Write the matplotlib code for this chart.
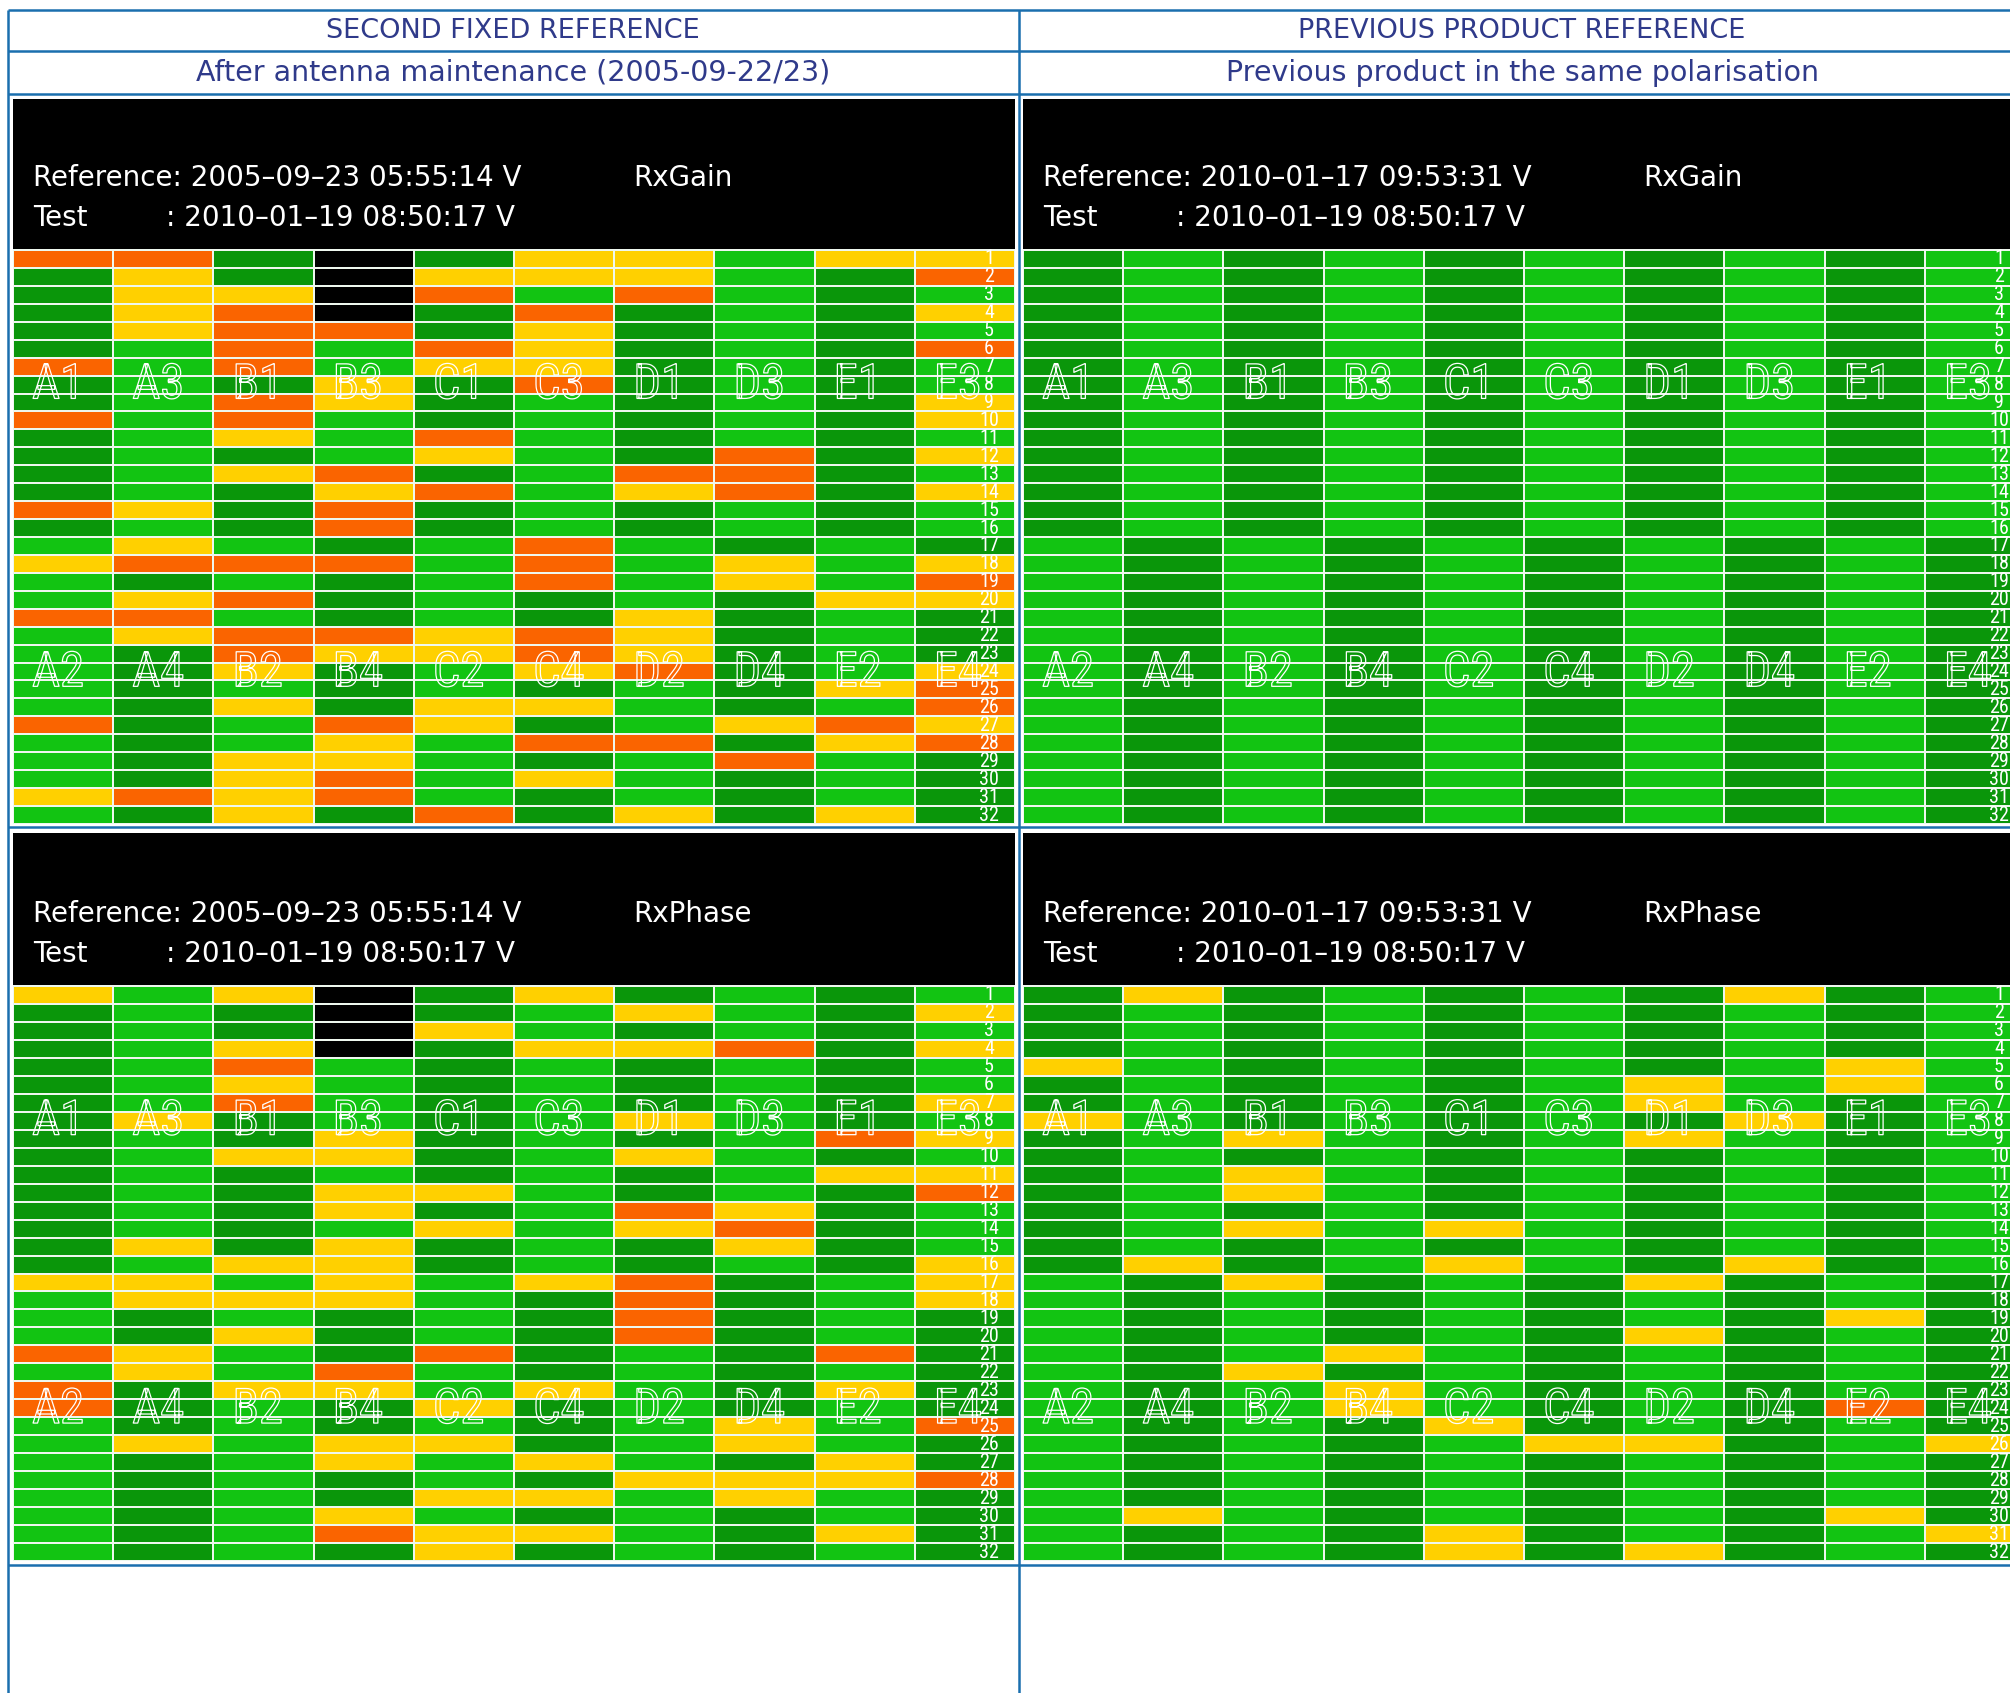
import numpy as np
import matplotlib
matplotlib.use("Agg")
import matplotlib.pyplot as plt
from matplotlib.colors import ListedColormap
from matplotlib import patheffects, font_manager

W, H = 2010, 1693

# tile names, upper and lower half of each panel
top_labels = ["A1", "A3", "B1", "B3", "C1", "C3", "D1", "D3", "E1", "E3"]
bot_labels = ["A2", "A4", "B2", "B4", "C2", "C4", "D2", "D4", "E2", "E4"]

# one string per row (1..32), one char per tile column
# '.' = ok (green), 'y' = warning, 'o' = alarm, 'k' = no data
gain_fixed = [
    "oo.k.yy.yy", ".y.kyyy..o", ".yyko.o...", ".yok.o...y",
    ".yoo.y....", "..o.oy...o", "o.o.yy....", "...y.o....",
    "..oy.....y", "o.o......y", "..y.o.....", "....y..o.y",
    "..yo..oo..", "...yo.yo.y", "oy.o......", "...o......",
    ".y...o....", "yooo.o.y.y", ".....o.y.o", ".yo.....yy",
    "oo....y...", ".yooyoy...", "..oyyoy...", "..y..yo..y",
    "........yo", "..y.yy...o", "o..oy..yoy", "...y.oo.yo",
    "..yy...o..", "..yo.y....", "yoyo......", "..y.o.y.y.",
]
gain_prev = [".........."] * 32
phase_fixed = [
    "y.yk.y....", "...k..y..y", "...ky.....", "..yk.yyo.y",
    "..o.......", "..y.......", "..o......y", ".y....y...",
    "...y....oy", "..yy..y...", "........yy", "...yy....o",
    "...y..oy..", "....y.yo..", ".y.y...y..", "..yy.....y",
    "yy.y.yo..y", ".yyy..o..y", "......o...", "..y...o...",
    "oy..o...o.", ".y.o......", "o.yy.y..y.", "o...y.....",
    ".......y.o", ".y.yy..y..", "...y.y..y.", "......yyyo",
    "....yy.y..", "...y......", "...oyy..y.", "....y.....",
]
phase_prev = [
    ".y.....y..", "..........", "..........", "..........",
    "y.......y.", "......y.y.", "......y...", "y......y..",
    "..y...y...", "..........", "..y.......", "..y.......",
    "..........", "..y.y.....", "..........", ".y..y..y..",
    "..y...y...", "..........", "........y.", "......y...",
    "...y......", "..y.......", "...y......", "...y....o.",
    "....y.....", ".....yy..y", "..........", "..........",
    "..........", ".y......y.", "....y....y", "....y.y...",
]

ref_fixed = "2005–09–23 05:55:14 V"
ref_prev = "2010–01–17 09:53:31 V"
test_time = "2010–01–19 08:50:17 V"

blue = "#1a6fae"
navy = "#2f3a8a"
cmap = ListedColormap(["#0a960a", "#12c412", "#ffd000", "#fa6400", "#000000"])

names = {f.name for f in font_manager.fontManager.ttflist}
narrow = next((n for n in ["Liberation Sans Narrow", "Roboto Condensed",
                           "Open Sans Condensed"] if n in names), "DejaVu Sans")

fig = plt.figure(figsize=(W / 100, H / 100), dpi=100)
fig.patch.set_facecolor("white")

# table frame and headings
bg = fig.add_axes([0, 0, 1, 1])
bg.set_xlim(0, W)
bg.set_ylim(H, 0)
bg.axis("off")
for y in [10, 51, 94, 827, 1565]:
    bg.plot([8, W + 20], [y, y], color=blue, lw=1.8, solid_capstyle="butt")
for x in [8, 1019]:
    bg.plot([x, x], [10, H + 5], color=blue, lw=1.8, solid_capstyle="butt")

bg.text(513, 31, "SECOND FIXED REFERENCE", color=navy, fontsize=19.5,
        ha="center", va="center")
bg.text(513, 73, "After antenna maintenance (2005-09-22/23)", color=navy,
        fontsize=20.5, ha="center", va="center")
bg.text(1522, 31, "PREVIOUS PRODUCT REFERENCE", color=navy, fontsize=19.5,
        ha="center", va="center")
bg.text(1522, 73, "Previous product in the same polarisation", color=navy,
        fontsize=20.5, ha="center", va="center")


def add_panel(x0, top, g0, g1, ref, kind, cells):
    rowh = (g1 - g0) / 32
    hdr = (g0 - top) / rowh
    ax = fig.add_axes([x0 / W, 1 - g1 / H, 1002 / W, (g1 - top) / H])
    ax.set_xlim(0, 10)
    ax.set_ylim(32, -hdr)
    ax.set_facecolor("black")
    ax.set_xticks([])
    ax.set_yticks([])
    for s in ax.spines.values():
        s.set_visible(False)

    codes = np.zeros((32, 10), dtype=int)
    for r, line in enumerate(cells):
        for c, ch in enumerate(line):
            if ch == ".":
                half = 0 if r < 16 else 1
                codes[r, c] = 0 if (c + half) % 2 == 0 else 1
            else:
                codes[r, c] = {"y": 2, "o": 3, "k": 4}[ch]
    ax.pcolormesh(np.arange(11), np.arange(33), codes, cmap=cmap,
                  vmin=-0.5, vmax=4.5, edgecolors="#eef7ee", linewidth=1.4)

    outline = [patheffects.withStroke(linewidth=0.9, foreground="white")]
    for c in range(10):
        ax.text(c + 0.19, 7.55, top_labels[c], color="none", fontsize=35,
                family=narrow, ha="left", va="center", path_effects=outline)
        ax.text(c + 0.19, 23.6, bot_labels[c], color="none", fontsize=35,
                family=narrow, ha="left", va="center", path_effects=outline)
    for r in range(32):
        ax.text(9.74, r + 0.5, str(r + 1), color="white", fontsize=14.5,
                family=narrow, ha="center", va="center")

    ax.text(0.2, -4.0, "Reference: " + ref, color="white", fontsize=20,
            ha="left", va="center")
    ax.text(6.19, -4.0, kind, color="white", fontsize=20, ha="left", va="center")
    ax.text(0.2, -1.78, "Test", color="white", fontsize=20, ha="left", va="center")
    ax.text(1.53, -1.78, ": " + test_time, color="white", fontsize=20,
            ha="left", va="center")


add_panel(13, 99, 250, 824, ref_fixed, "RxGain", gain_fixed)
add_panel(1023, 99, 250, 824, ref_prev, "RxGain", gain_prev)
add_panel(13, 833, 986, 1561, ref_fixed, "RxPhase", phase_fixed)
add_panel(1023, 833, 986, 1561, ref_prev, "RxPhase", phase_prev)

fig.savefig("out.png", dpi=100)
